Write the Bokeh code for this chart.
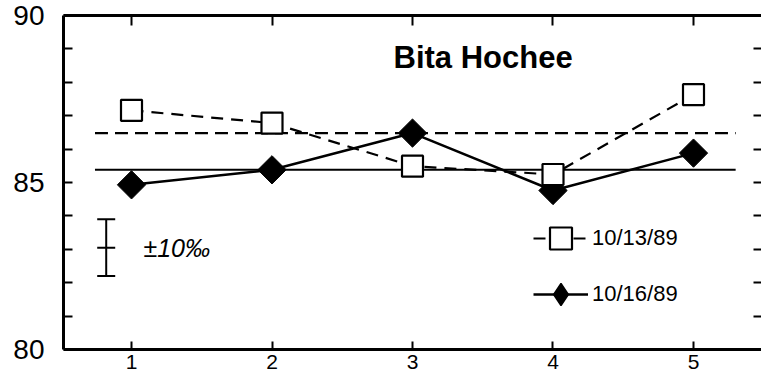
import math
from bokeh.plotting import figure
from bokeh.models import Range1d, LinearAxis, FixedTicker, Label, Legend, LegendItem
from bokeh.embed import file_html
from bokeh.resources import INLINE

# ---- data ----
runs = [1, 2, 3, 4, 5]
series_1013 = [87.16, 86.78, 85.49, 85.24, 87.63]
series_1016 = [84.93, 85.38, 86.48, 84.76, 85.88]
series_labels = ["10/13/89", "10/16/89"]
mean_1013 = 86.48
mean_1016 = 85.38
mean_span = [0.74, 5.30]
x_ticks = [1, 2, 3, 4, 5]
y_major = [80, 85, 90]
y_minor = [81, 82, 83, 84, 86, 87, 88, 89]
y_right = [81, 82, 83, 84, 85, 86, 87, 88, 89]
err_x = 0.82
err_center = 83.05
err_half = 0.85
title_text = "Bita Hochee"
err_text = "±10‰"

FONT = "Liberation Sans"

p = figure(width=761, height=378, x_range=Range1d(0.516, 5.484), y_range=Range1d(80, 90),
           output_backend="svg", toolbar_location=None,
           x_axis_location=None, y_axis_location=None,
           min_border_left=63, min_border_right=0, min_border_top=15, min_border_bottom=29)
p.outline_line_color = None
p.grid.visible = False
p.background_fill_color = "white"
p.border_fill_color = "white"

# left axis
yl = LinearAxis(ticker=FixedTicker(ticks=y_major, minor_ticks=y_minor))
yl.major_tick_in = 9; yl.major_tick_out = 0
yl.minor_tick_in = 9; yl.minor_tick_out = 0
yl.major_tick_line_width = 2; yl.minor_tick_line_width = 2
yl.axis_line_width = 3
yl.major_label_text_font = FONT
yl.major_label_text_font_size = "28px"
yl.major_label_text_color = "black"
yl.major_label_standoff = 19
p.add_layout(yl, "left")

# bottom axis
xb = LinearAxis(ticker=FixedTicker(ticks=x_ticks, minor_ticks=[]))
xb.major_tick_in = 8; xb.major_tick_out = 0
xb.major_tick_line_width = 2
xb.axis_line_width = 3
xb.major_label_text_font = FONT
xb.major_label_text_font_size = "21px"
xb.major_label_text_color = "black"
xb.major_label_standoff = 5
p.add_layout(xb, "below")

# top axis (ticks only)
xt = LinearAxis(ticker=FixedTicker(ticks=x_ticks, minor_ticks=[]))
xt.major_tick_in = 10; xt.major_tick_out = 0
xt.major_tick_line_width = 2
xt.axis_line_width = 3
xt.major_label_overrides = {t: "" for t in x_ticks}
xt.major_label_text_font_size = "1px"
xt.major_label_standoff = 0
p.add_layout(xt, "above")

# right axis (ticks only)
yr = LinearAxis(ticker=FixedTicker(ticks=y_right, minor_ticks=[]))
yr.major_tick_in = 8; yr.major_tick_out = 0
yr.major_tick_line_width = 2
yr.axis_line_color = None
yr.major_label_overrides = {t: "" for t in y_right}
yr.major_label_text_font_size = "1px"
yr.major_label_standoff = 0
p.add_layout(yr, "right")

# mean lines
p.line(mean_span, [mean_1013, mean_1013], line_color="black", line_width=2.2, line_dash="13 7")
p.line(mean_span, [mean_1016, mean_1016], line_color="black", line_width=2)

# series lines
l16 = p.line(runs, series_1016, line_color="black", line_width=2.5)
l13 = p.line(runs, series_1013, line_color="black", line_width=2.2, line_dash="12 8")
m16 = p.scatter(runs, series_1016, marker="square", size=20, angle=math.pi / 4,
                fill_color="black", line_color="black", line_width=1)
m13 = p.scatter(runs, series_1013, marker="square", size=21,
                fill_color="white", line_color="black", line_width=2.2)
# diamond glyph used for the legend key (legend keys ignore marker angle)
m16_key = p.scatter(runs, series_1016, marker="diamond", size=28,
                    fill_color="black", line_color="black", line_width=1.5, visible=False)

# error bar
p.segment(x0=[err_x], y0=[err_center - err_half], x1=[err_x], y1=[err_center + err_half],
          line_color="black", line_width=2)
p.scatter([err_x] * 3, [err_center - err_half, err_center, err_center + err_half],
          marker="dash", size=18, line_color="black", line_width=2)

p.add_layout(Label(x=1.085, y=err_center, text=err_text, text_font=FONT, text_font_size="25px",
                   text_font_style="italic", text_color="black", text_baseline="alphabetic"))
p.add_layout(Label(x=2.865, y=88.74, text=title_text, text_font=FONT, text_font_size="31px",
                   text_font_style="bold", text_color="black", text_baseline="alphabetic"))

legend = Legend(items=[LegendItem(label=series_labels[0], renderers=[l13, m13]),
                       LegendItem(label=series_labels[1], renderers=[l16, m16_key])],
                location=(470, 27), orientation="vertical",
                glyph_width=55, glyph_height=56, spacing=-10, label_standoff=4,
                padding=0, margin=0, border_line_color=None, background_fill_alpha=0,
                label_text_font=FONT, label_text_font_size="22px", label_text_color="black",
                label_height=46)
p.add_layout(legend, "center")

open("out.html", "w").write(file_html(p, INLINE))
